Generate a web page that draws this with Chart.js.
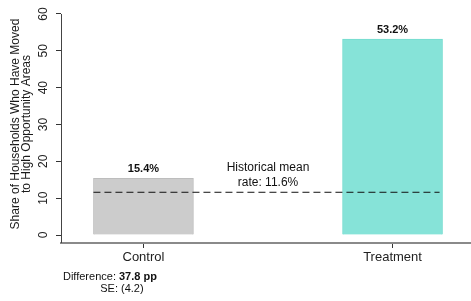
<!DOCTYPE html>
<html>
<head>
<meta charset="utf-8">
<script src="https://cdn.jsdelivr.net/npm/chart.js@4/dist/chart.umd.min.js"></script>
<style>
  body { margin: 0; background: #fff; }
  canvas { display: block; }
</style>
</head>
<body>
<canvas id="myChart" width="471" height="301"></canvas>
<script>
const categories = ["Control", "Treatment"];
const shares = [15.4, 53.2];
const historicalMean = 11.6;
const yTicks = [0, 10, 20, 30, 40, 50, 60];
const difference = 37.8;
const diffSE = 4.2;

const barFill = ["#cccccc", "#86e3d8"];
const barEdge = ["#bdbdbd", "#74dccf"];
const FONT = "'Liberation Sans', Arial, sans-serif";

// labels, dashed mean line, footnote, R-style y axis
const extras = {
  id: "extras",
  afterDatasetsDraw(chart) {
    const ctx = chart.ctx;
    const xs = chart.scales.x;
    const ys = chart.scales.y;
    const meta = chart.getDatasetMeta(0);
    ctx.save();

    // y axis line from top tick down to x axis
    ctx.strokeStyle = "#444";
    ctx.lineWidth = 1;
    ctx.beginPath();
    ctx.moveTo(chart.chartArea.left + 0.5, ys.getPixelForValue(yTicks[yTicks.length - 1]));
    ctx.lineTo(chart.chartArea.left + 0.5, chart.chartArea.bottom);
    ctx.stroke();

    // rotated y tick labels
    ctx.fillStyle = "#222";
    ctx.font = "12px " + FONT;
    ctx.textAlign = "center";
    ctx.textBaseline = "middle";
    yTicks.forEach((v) => {
      ctx.save();
      ctx.translate(44, ys.getPixelForValue(v));
      ctx.rotate(-Math.PI / 2);
      ctx.fillText(String(v), 0, 0);
      ctx.restore();
    });

    // bar value labels
    ctx.fillStyle = "#111";
    ctx.font = "bold 11px " + FONT;
    meta.data.forEach((bar, i) => {
      ctx.fillText(shares[i].toFixed(1) + "%", bar.x, bar.y - 9);
    });

    // dashed historical mean
    const first = meta.data[0];
    const last = meta.data[meta.data.length - 1];
    const yMean = ys.getPixelForValue(historicalMean);
    ctx.strokeStyle = "#111";
    ctx.setLineDash([7, 4]);
    ctx.beginPath();
    ctx.moveTo(first.x - first.width / 2, yMean);
    ctx.lineTo(last.x + last.width / 2 - 3, yMean);
    ctx.stroke();
    ctx.setLineDash([]);

    ctx.font = "12px " + FONT;
    ctx.fillStyle = "#111";
    const midX = xs.getPixelForValue(0.5);
    ctx.fillText("Historical mean", midX, yMean - 25);
    ctx.fillText("rate: " + historicalMean.toFixed(1) + "%", midX, yMean - 10);

    // footnote under control
    const cx = xs.getPixelForValue(0);
    ctx.font = "11px " + FONT;
    ctx.textAlign = "left";
    const lbl = "Difference: ";
    ctx.fillText(lbl, cx - 80.5, 277);
    const w = ctx.measureText(lbl).width;
    ctx.font = "bold 11px " + FONT;
    ctx.fillText(difference.toFixed(1) + " pp", cx - 80.5 + w, 277);
    ctx.font = "11px " + FONT;
    ctx.textAlign = "center";
    ctx.fillText("SE: (" + diffSE.toFixed(1) + ")", cx - 21.5, 289);

    ctx.restore();
  },
};

const ctx = document.getElementById("myChart");
const myChart = new Chart(ctx, {
  type: "bar",
  data: {
    labels: categories,
    datasets: [
      {
        data: shares.map((v, i) => ({ x: i, y: v })),
        backgroundColor: barFill,
        borderColor: barEdge,
        borderWidth: 1,
        barThickness: 100,
      },
    ],
  },
  options: {
    responsive: false,
    animation: false,
    layout: { padding: { top: 5, right: 1, bottom: 28, left: 0 } },
    plugins: {
      legend: { display: false },
      tooltip: { enabled: false },
    },
    scales: {
      x: {
        type: "linear",
        offset: false,
        min: -0.331,
        max: 1.311,
        afterBuildTicks: (scale) => {
          scale.ticks = categories.map((c, i) => ({ value: i }));
        },
        afterFit: (scale) => {
          scale.height = 30;
        },
        grid: {
          offset: false,
          drawOnChartArea: false,
          tickLength: 5,
          color: "#333",
        },
        border: { color: "#8a8a8a", width: 2 },
        ticks: {
          callback: (v) => categories[v] ?? "",
          color: "#222",
          font: { family: FONT, size: 13 },
          padding: 2,
          maxRotation: 0,
        },
      },
      y: {
        min: -2.17,
        max: 62.44,
        afterBuildTicks: (scale) => {
          scale.ticks = yTicks.map((v) => ({ value: v }));
        },
        afterFit: (scale) => {
          scale.width = 61;
        },
        grid: {
          drawOnChartArea: false,
          tickLength: 5,
          color: "#333",
        },
        border: { display: false },
        ticks: { display: false },
        title: {
          display: true,
          text: ["Share of Households Who Have Moved", "to High Opportunity Areas"],
          color: "#1a1a1a",
          font: { family: FONT, size: 12, lineHeight: 0.95 },
          padding: { top: 10, bottom: 0 },
        },
      },
    },
  },
  plugins: [extras],
});
</script>
</body>
</html>
